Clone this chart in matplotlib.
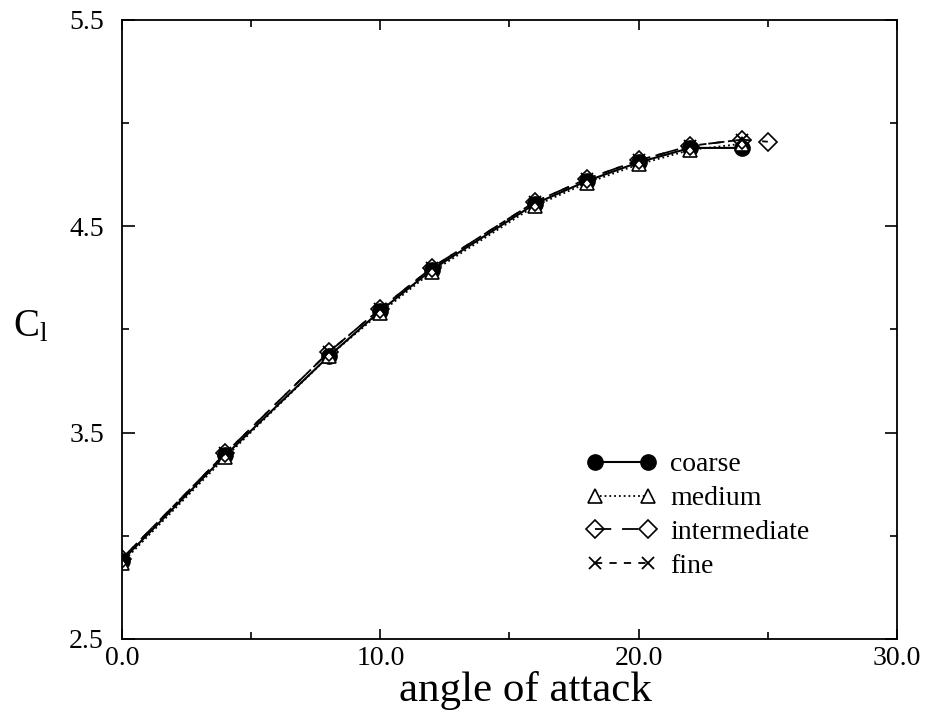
import matplotlib
matplotlib.use('Agg')
import matplotlib.pyplot as plt
from matplotlib.ticker import MultipleLocator, FixedLocator, FixedFormatter

plt.rcParams['font.family'] = ['Liberation Serif', 'DejaVu Serif']
plt.rcParams['mathtext.fontset'] = 'custom'
plt.rcParams['mathtext.rm'] = 'Liberation Serif'

# angle of attack (deg)
alpha = [0, 4, 8, 10, 12, 16, 18, 20, 22, 24]
alpha_int = [0, 4, 8, 10, 12, 16, 18, 20, 22, 24, 25]

# lift coefficient per grid
cl_coarse = [2.88, 3.39, 3.87, 4.09, 4.29, 4.61, 4.72, 4.81, 4.88, 4.88]
cl_medium = [2.87, 3.38, 3.87, 4.08, 4.28, 4.60, 4.71, 4.80, 4.87, 4.90]
cl_intermediate = [2.89, 3.40, 3.89, 4.10, 4.30, 4.62, 4.73, 4.82, 4.89, 4.92, 4.91]
cl_fine = [2.89, 3.40, 3.89, 4.10, 4.30, 4.62, 4.73, 4.82, 4.89, 4.92]

x_ticks = [0.0, 10.0, 20.0, 30.0]
x_labels = ['0.0', '10.0', '20.0', '30.0']
y_ticks = [2.5, 3.5, 4.5, 5.5]
y_labels = ['2.5', '3.5', '4.5', '5.5']

fig = plt.figure(figsize=(9.27, 7.11), dpi=100)
ax = fig.add_axes([0.1316, 0.1013, 0.836, 0.8706])

ms = 10
ax.plot(alpha, cl_coarse, color='black', lw=1.5, ls='-', marker='o', ms=ms + 1,
        mfc='black', mec='black', label='coarse')
ax.plot(alpha, cl_medium, color='black', lw=1.3, ls=':', marker='^', ms=ms,
        mfc='white', mec='black', mew=1.2, label='medium')
ax.plot(alpha_int, cl_intermediate, color='black', lw=1.3, ls=(0, (9, 6)), marker='D',
        ms=ms - 1, mfc='none', mec='black', mew=1.2, label='intermediate')
ax.plot(alpha, cl_fine, color='black', lw=1.3, ls=(0, (4, 4)), marker='x', ms=ms - 2,
        mec='black', mew=1.3, label='fine')

ax.set_xlim(0, 30)
ax.set_ylim(2.5, 5.5)
ax.xaxis.set_major_locator(FixedLocator(x_ticks))
ax.xaxis.set_major_formatter(FixedFormatter(x_labels))
ax.yaxis.set_major_locator(FixedLocator(y_ticks))
ax.yaxis.set_major_formatter(FixedFormatter(y_labels))
ax.xaxis.set_minor_locator(MultipleLocator(5))
ax.yaxis.set_minor_locator(MultipleLocator(0.5))
ax.tick_params(which='both', direction='in', top=True, right=True, labelsize=20,
               width=1.2)
ax.tick_params(axis='y', which='major', length=9, pad=13)
ax.tick_params(axis='x', which='major', length=7, pad=5)
ax.tick_params(which='minor', length=5)
for s in ax.spines.values():
    s.set_linewidth(1.3)

ax.set_xlabel('angle of attack', fontsize=31)
ax.xaxis.set_label_coords(0.52, -0.052)
fig.text(0.014, 0.54, r'$\mathregular{C_l}$', fontsize=28, ha='left', va='center')

ax.legend(loc='upper left', bbox_to_anchor=(0.6, 0.302), frameon=False, fontsize=20,
          numpoints=2, handlelength=2.5, handletextpad=0.5, labelspacing=0.3,
          borderpad=0, borderaxespad=0)

fig.savefig('out.png', dpi=100)
